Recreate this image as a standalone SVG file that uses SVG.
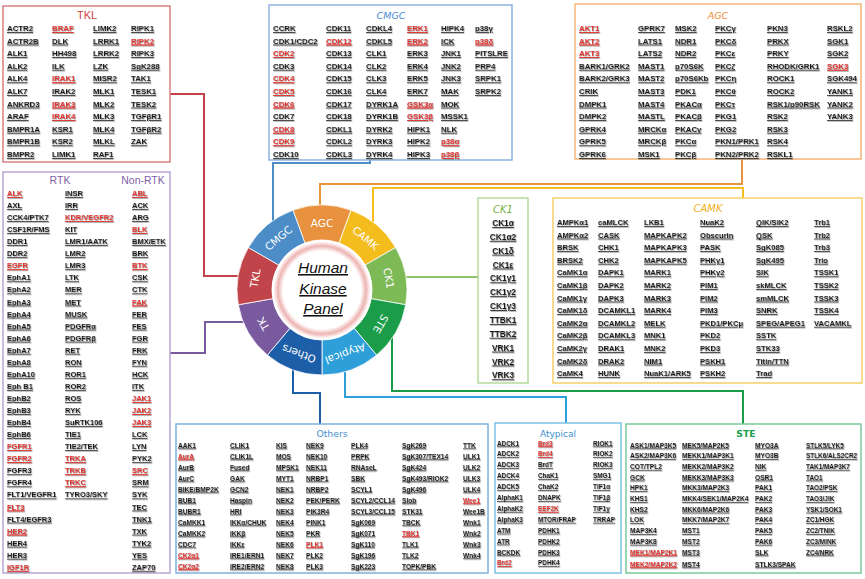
<svg xmlns="http://www.w3.org/2000/svg" width="865" height="579" viewBox="0 0 865 579">
<defs>
<style>
.k{font-family:"Liberation Sans",Arial,sans-serif;font-weight:bold;font-size:7.8px;fill:#1e1e1e;text-decoration:underline}
.m{font-size:7.5px}
.c{font-size:8.3px;text-anchor:middle}
.s{font-size:6.6px}
.a{font-size:6.4px}
.r{fill:#E3342F;text-decoration:underline}
.box{fill:#fff;stroke-width:1.5}
.ttl{font-family:"Liberation Sans",Arial,sans-serif;font-size:11px;text-anchor:middle}
.it{font-family:"DejaVu Sans",sans-serif;font-style:oblique;font-size:9.5px;text-anchor:middle}
.con{fill:none;stroke-width:2}
.seg{stroke:#fff;stroke-width:0.8}
.sl{font-family:"DejaVu Sans",sans-serif;font-size:10.5px;fill:#fff;text-anchor:middle;dominant-baseline:central}
.ctr{font-family:"Liberation Sans",Arial,sans-serif;font-style:italic;font-size:15.5px;fill:#111;text-anchor:middle;text-decoration:underline}
</style>
<filter id="sh" x="-5%" y="-5%" width="110%" height="115%"><feDropShadow dx="0.7" dy="0.7" stdDeviation="0.35" flood-color="#777" flood-opacity="0.85"/></filter>
<radialGradient id="ring" cx="0.5" cy="0.5" r="0.5"><stop offset="0" stop-color="#fff"/><stop offset="0.78" stop-color="#fff"/><stop offset="0.88" stop-color="#EDB4B2"/><stop offset="0.97" stop-color="#fff"/><stop offset="1" stop-color="#fff"/></radialGradient>
</defs>
<rect width="865" height="579" fill="#fff"/>

<g id="connectors">
<path class="con" stroke="#C0444A" d="M170 94 H204 V276 H240"/>
<path class="con" stroke="#7A5A9E" d="M170 353 H205 V322 H246"/>
<path class="con" stroke="#4C8DC8" d="M370 160 V163 H273 V224"/>
<path class="con" stroke="#E8913E" d="M742 159 V184 H320 V208"/>
<path class="con" stroke="#F5BC1E" d="M743 198 V188 H373 V225"/>
<path class="con" stroke="#8DC46A" d="M404 277 H478"/>
<path class="con" stroke="#1A9C48" d="M392 336 V391 H743 V424"/>
<path class="con" stroke="#2E9FD8" d="M345 369 V397 H566 V423"/>
<path class="con" stroke="#1D5EA8" d="M293 368 V393 H320 V424"/>
</g>

<g id="TKL">
<rect class="box" x="3" y="6" width="167" height="156" stroke="#D88080"/>
<text class="ttl" x="87" y="19" fill="#D0403F">TKL</text>
<g filter="url(#sh)">
<text class="k" y="31"><tspan x="7">ACTR2</tspan><tspan x="7" dy="12.6">ACTR2B</tspan><tspan x="7" dy="12.6">ALK1</tspan><tspan x="7" dy="12.6">ALK2</tspan><tspan x="7" dy="12.6">ALK4</tspan><tspan x="7" dy="12.6">ALK7</tspan><tspan x="7" dy="12.6">ANKRD3</tspan><tspan x="7" dy="12.6">ARAF</tspan><tspan x="7" dy="12.6">BMPR1A</tspan><tspan x="7" dy="12.6">BMPR1B</tspan><tspan x="7" dy="12.6">BMPR2</tspan></text>
<text class="k" y="31"><tspan x="52" class="r">BRAF</tspan><tspan x="52" dy="12.6">DLK</tspan><tspan x="52" dy="12.6">HH498</tspan><tspan x="52" dy="12.6">ILK</tspan><tspan x="52" dy="12.6" class="r">IRAK1</tspan><tspan x="52" dy="12.6">IRAK2</tspan><tspan x="52" dy="12.6" class="r">IRAK3</tspan><tspan x="52" dy="12.6" class="r">IRAK4</tspan><tspan x="52" dy="12.6">KSR1</tspan><tspan x="52" dy="12.6">KSR2</tspan><tspan x="52" dy="12.6">LIMK1</tspan></text>
<text class="k" y="31"><tspan x="93">LIMK2</tspan><tspan x="93" dy="12.6">LRRK1</tspan><tspan x="93" dy="12.6">LRRK2</tspan><tspan x="93" dy="12.6">LZK</tspan><tspan x="93" dy="12.6">MISR2</tspan><tspan x="93" dy="12.6">MLK1</tspan><tspan x="93" dy="12.6">MLK2</tspan><tspan x="93" dy="12.6">MLK3</tspan><tspan x="93" dy="12.6">MLK4</tspan><tspan x="93" dy="12.6">MLKL</tspan><tspan x="93" dy="12.6">RAF1</tspan></text>
<text class="k" y="31"><tspan x="131">RIPK1</tspan><tspan x="131" dy="12.6" class="r">RIPK2</tspan><tspan x="131" dy="12.6">RIPK3</tspan><tspan x="131" dy="12.6">SgK288</tspan><tspan x="131" dy="12.6">TAK1</tspan><tspan x="131" dy="12.6">TESK1</tspan><tspan x="131" dy="12.6">TESK2</tspan><tspan x="131" dy="12.6">TGFβR1</tspan><tspan x="131" dy="12.6">TGFβR2</tspan><tspan x="131" dy="12.6">ZAK</tspan></text>
</g>
</g>

<g id="CMGC">
<rect class="box" x="269" y="5" width="243" height="155" stroke="#8DB3E2"/>
<text class="it" x="391" y="19" fill="#4A8AD0">CMGC</text>
<g filter="url(#sh)">
<text class="k" y="31"><tspan x="273">CCRK</tspan><tspan x="273" dy="12.6">CDK1/CDC2</tspan><tspan x="273" dy="12.6" class="r">CDK2</tspan><tspan x="273" dy="12.6">CDK3</tspan><tspan x="273" dy="12.6" class="r">CDK4</tspan><tspan x="273" dy="12.6" class="r">CDK5</tspan><tspan x="273" dy="12.6" class="r">CDK6</tspan><tspan x="273" dy="12.6">CDK7</tspan><tspan x="273" dy="12.6" class="r">CDK8</tspan><tspan x="273" dy="12.6" class="r">CDK9</tspan><tspan x="273" dy="12.6">CDK10</tspan></text>
<text class="k" y="31"><tspan x="326">CDK11</tspan><tspan x="326" dy="12.6" class="r">CDK12</tspan><tspan x="326" dy="12.6">CDK13</tspan><tspan x="326" dy="12.6">CDK14</tspan><tspan x="326" dy="12.6">CDK15</tspan><tspan x="326" dy="12.6">CDK16</tspan><tspan x="326" dy="12.6">CDK17</tspan><tspan x="326" dy="12.6">CDK18</tspan><tspan x="326" dy="12.6">CDKL1</tspan><tspan x="326" dy="12.6">CDKL2</tspan><tspan x="326" dy="12.6">CDKL3</tspan></text>
<text class="k" y="31"><tspan x="366">CDKL4</tspan><tspan x="366" dy="12.6">CDKL5</tspan><tspan x="366" dy="12.6">CLK1</tspan><tspan x="366" dy="12.6">CLK2</tspan><tspan x="366" dy="12.6">CLK3</tspan><tspan x="366" dy="12.6">CLK4</tspan><tspan x="366" dy="12.6">DYRK1A</tspan><tspan x="366" dy="12.6">DYRK1B</tspan><tspan x="366" dy="12.6">DYRK2</tspan><tspan x="366" dy="12.6">DYRK3</tspan><tspan x="366" dy="12.6">DYRK4</tspan></text>
<text class="k" y="31"><tspan x="407" class="r">ERK1</tspan><tspan x="407" dy="12.6" class="r">ERK2</tspan><tspan x="407" dy="12.6">ERK3</tspan><tspan x="407" dy="12.6">ERK4</tspan><tspan x="407" dy="12.6">ERK5</tspan><tspan x="407" dy="12.6">ERK7</tspan><tspan x="407" dy="12.6" class="r">GSK3α</tspan><tspan x="407" dy="12.6" class="r">GSK3β</tspan><tspan x="407" dy="12.6">HIPK1</tspan><tspan x="407" dy="12.6">HIPK2</tspan><tspan x="407" dy="12.6">HIPK3</tspan></text>
<text class="k" y="31"><tspan x="441">HIPK4</tspan><tspan x="441" dy="12.6">ICK</tspan><tspan x="441" dy="12.6">JNK1</tspan><tspan x="441" dy="12.6">JNK2</tspan><tspan x="441" dy="12.6">JNK3</tspan><tspan x="441" dy="12.6">MAK</tspan><tspan x="441" dy="12.6">MOK</tspan><tspan x="441" dy="12.6">MSSK1</tspan><tspan x="441" dy="12.6">NLK</tspan><tspan x="441" dy="12.6" class="r">p38α</tspan><tspan x="441" dy="12.6" class="r">p38β</tspan></text>
<text class="k" y="31"><tspan x="475">p38γ</tspan><tspan x="475" dy="12.6" class="r">p38δ</tspan><tspan x="475" dy="12.6">PITSLRE</tspan><tspan x="475" dy="12.6">PRP4</tspan><tspan x="475" dy="12.6">SRPK1</tspan><tspan x="475" dy="12.6">SRPK2</tspan></text>
</g>
</g>

<g id="AGC">
<rect class="box" x="575" y="4" width="286" height="155" stroke="#F5B57A"/>
<text class="it" x="718" y="19" fill="#F08830">AGC</text>
<g filter="url(#sh)">
<text class="k" y="31"><tspan x="579" class="r">AKT1</tspan><tspan x="579" dy="12.6" class="r">AKT2</tspan><tspan x="579" dy="12.6" class="r">AKT3</tspan><tspan x="579" dy="12.6">BARK1/GRK2</tspan><tspan x="579" dy="12.6">BARK2/GRK3</tspan><tspan x="579" dy="12.6">CRIK</tspan><tspan x="579" dy="12.6">DMPK1</tspan><tspan x="579" dy="12.6">DMPK2</tspan><tspan x="579" dy="12.6">GPRK4</tspan><tspan x="579" dy="12.6">GPRK5</tspan><tspan x="579" dy="12.6">GPRK6</tspan></text>
<text class="k" y="31"><tspan x="638">GPRK7</tspan><tspan x="638" dy="12.6">LATS1</tspan><tspan x="638" dy="12.6">LATS2</tspan><tspan x="638" dy="12.6">MAST1</tspan><tspan x="638" dy="12.6">MAST2</tspan><tspan x="638" dy="12.6">MAST3</tspan><tspan x="638" dy="12.6">MAST4</tspan><tspan x="638" dy="12.6">MASTL</tspan><tspan x="638" dy="12.6">MRCKα</tspan><tspan x="638" dy="12.6">MRCKβ</tspan><tspan x="638" dy="12.6">MSK1</tspan></text>
<text class="k" y="31"><tspan x="675">MSK2</tspan><tspan x="675" dy="12.6">NDR1</tspan><tspan x="675" dy="12.6">NDR2</tspan><tspan x="675" dy="12.6">p70S6K</tspan><tspan x="675" dy="12.6">p70S6Kb</tspan><tspan x="675" dy="12.6">PDK1</tspan><tspan x="675" dy="12.6">PKACα</tspan><tspan x="675" dy="12.6">PKACβ</tspan><tspan x="675" dy="12.6">PKACγ</tspan><tspan x="675" dy="12.6">PKCα</tspan><tspan x="675" dy="12.6">PKCβ</tspan></text>
<text class="k" y="31"><tspan x="715">PKCγ</tspan><tspan x="715" dy="12.6">PKCδ</tspan><tspan x="715" dy="12.6">PKCε</tspan><tspan x="715" dy="12.6">PKCζ</tspan><tspan x="715" dy="12.6">PKCη</tspan><tspan x="715" dy="12.6">PKCθ</tspan><tspan x="715" dy="12.6">PKCτ</tspan><tspan x="715" dy="12.6">PKG1</tspan><tspan x="715" dy="12.6">PKG2</tspan><tspan x="715" dy="12.6">PKN1/PRK1</tspan><tspan x="715" dy="12.6">PKN2/PRK2</tspan></text>
<text class="k" y="31"><tspan x="767">PKN3</tspan><tspan x="767" dy="12.6">PRKX</tspan><tspan x="767" dy="12.6">PRKY</tspan><tspan x="767" dy="12.6">RHODK/GRK1</tspan><tspan x="767" dy="12.6">ROCK1</tspan><tspan x="767" dy="12.6">ROCK2</tspan><tspan x="767" dy="12.6">RSK1/p90RSK</tspan><tspan x="767" dy="12.6">RSK2</tspan><tspan x="767" dy="12.6">RSK3</tspan><tspan x="767" dy="12.6">RSK4</tspan><tspan x="767" dy="12.6">RSKL1</tspan></text>
<text class="k" y="31"><tspan x="827">RSKL2</tspan><tspan x="827" dy="12.6">SGK1</tspan><tspan x="827" dy="12.6">SGK2</tspan><tspan x="827" dy="12.6" class="r">SGK3</tspan><tspan x="827" dy="12.6">SGK494</tspan><tspan x="827" dy="12.6">YANK1</tspan><tspan x="827" dy="12.6">YANK2</tspan><tspan x="827" dy="12.6">YANK3</tspan></text>
</g>
</g>

<g id="TK">
<rect class="box" x="3" y="172" width="167" height="401" stroke="#B9A6D3"/>
<text class="ttl" x="60" y="184" fill="#8060A8" style="font-size:10.5px">RTK</text>
<text class="ttl" x="143" y="184" fill="#8060A8" style="font-size:10.5px">Non-RTK</text>
<g filter="url(#sh)">
<text class="k m" y="196"><tspan x="7" class="r">ALK</tspan><tspan x="7" dy="12.06">AXL</tspan><tspan x="7" dy="12.06">CCK4/PTK7</tspan><tspan x="7" dy="12.06">CSF1R/FMS</tspan><tspan x="7" dy="12.06">DDR1</tspan><tspan x="7" dy="12.06">DDR2</tspan><tspan x="7" dy="12.06" class="r">EGFR</tspan><tspan x="7" dy="12.06">EphA1</tspan><tspan x="7" dy="12.06">EphA2</tspan><tspan x="7" dy="12.06">EphA3</tspan><tspan x="7" dy="12.06">EphA4</tspan><tspan x="7" dy="12.06">EphA5</tspan><tspan x="7" dy="12.06">EphA6</tspan><tspan x="7" dy="12.06">EphA7</tspan><tspan x="7" dy="12.06">EphA8</tspan><tspan x="7" dy="12.06">EphA10</tspan><tspan x="7" dy="12.06">Eph B1</tspan><tspan x="7" dy="12.06">EphB2</tspan><tspan x="7" dy="12.06">EphB3</tspan><tspan x="7" dy="12.06">EphB4</tspan><tspan x="7" dy="12.06">EphB6</tspan><tspan x="7" dy="12.06" class="r">FGFR1</tspan><tspan x="7" dy="12.06" class="r">FGFR2</tspan><tspan x="7" dy="12.06">FGFR3</tspan><tspan x="7" dy="12.06">FGFR4</tspan><tspan x="7" dy="12.06">FLT1/VEGFR1</tspan><tspan x="7" dy="12.06" class="r">FLT3</tspan><tspan x="7" dy="12.06">FLT4/EGFR3</tspan><tspan x="7" dy="12.06" class="r">HER2</tspan><tspan x="7" dy="12.06">HER4</tspan><tspan x="7" dy="12.06">HER3</tspan><tspan x="7" dy="12.06" class="r">IGF1R</tspan></text>
<text class="k m" y="196"><tspan x="65">INSR</tspan><tspan x="65" dy="12.06">IRR</tspan><tspan x="65" dy="12.06" class="r">KDR/VEGFR2</tspan><tspan x="65" dy="12.06">KIT</tspan><tspan x="65" dy="12.06">LMR1/AATK</tspan><tspan x="65" dy="12.06">LMR2</tspan><tspan x="65" dy="12.06">LMR3</tspan><tspan x="65" dy="12.06">LTK</tspan><tspan x="65" dy="12.06">MER</tspan><tspan x="65" dy="12.06">MET</tspan><tspan x="65" dy="12.06">MUSK</tspan><tspan x="65" dy="12.06">PDGFRα</tspan><tspan x="65" dy="12.06">PDGFRβ</tspan><tspan x="65" dy="12.06">RET</tspan><tspan x="65" dy="12.06">RON</tspan><tspan x="65" dy="12.06">ROR1</tspan><tspan x="65" dy="12.06">ROR2</tspan><tspan x="65" dy="12.06">ROS</tspan><tspan x="65" dy="12.06">RYK</tspan><tspan x="65" dy="12.06">SuRTK106</tspan><tspan x="65" dy="12.06">TIE1</tspan><tspan x="65" dy="12.06">TIE2/TEK</tspan><tspan x="65" dy="12.06" class="r">TRKA</tspan><tspan x="65" dy="12.06" class="r">TRKB</tspan><tspan x="65" dy="12.06" class="r">TRKC</tspan><tspan x="65" dy="12.06">TYRO3/SKY</tspan></text>
<text class="k m" y="196"><tspan x="132" class="r">ABL</tspan><tspan x="132" dy="12.06">ACK</tspan><tspan x="132" dy="12.06">ARG</tspan><tspan x="132" dy="12.06" class="r">BLK</tspan><tspan x="132" dy="12.06">BMX/ETK</tspan><tspan x="132" dy="12.06">BRK</tspan><tspan x="132" dy="12.06" class="r">BTK</tspan><tspan x="132" dy="12.06">CSK</tspan><tspan x="132" dy="12.06">CTK</tspan><tspan x="132" dy="12.06" class="r">FAK</tspan><tspan x="132" dy="12.06">FER</tspan><tspan x="132" dy="12.06">FES</tspan><tspan x="132" dy="12.06">FGR</tspan><tspan x="132" dy="12.06">FRK</tspan><tspan x="132" dy="12.06">FYN</tspan><tspan x="132" dy="12.06">HCK</tspan><tspan x="132" dy="12.06">ITK</tspan><tspan x="132" dy="12.06" class="r">JAK1</tspan><tspan x="132" dy="12.06" class="r">JAK2</tspan><tspan x="132" dy="12.06" class="r">JAK3</tspan><tspan x="132" dy="12.06">LCK</tspan><tspan x="132" dy="12.06">LYN</tspan><tspan x="132" dy="12.06">PYK2</tspan><tspan x="132" dy="12.06" class="r">SRC</tspan><tspan x="132" dy="12.06">SRM</tspan><tspan x="132" dy="12.06">SYK</tspan><tspan x="132" dy="12.06">TEC</tspan><tspan x="132" dy="12.06">TNK1</tspan><tspan x="132" dy="12.06">TXK</tspan><tspan x="132" dy="12.06">TYK2</tspan><tspan x="132" dy="12.06">YES</tspan><tspan x="132" dy="12.06">ZAP70</tspan></text>
</g>
</g>

<g id="CK1">
<rect class="box" x="478" y="198" width="50" height="185" stroke="#B5D99C"/>
<text class="it" x="503" y="213" fill="#70B040" style="font-size:10px">CK1</text>
<g filter="url(#sh)">
<text class="k c" y="226"><tspan x="503">CK1α</tspan><tspan x="503" dy="13.85">CK1α2</tspan><tspan x="503" dy="13.85">CK1δ</tspan><tspan x="503" dy="13.85">CK1ε</tspan><tspan x="503" dy="13.85">CK1γ1</tspan><tspan x="503" dy="13.85">CK1γ2</tspan><tspan x="503" dy="13.85">CK1γ3</tspan><tspan x="503" dy="13.85">TTBK1</tspan><tspan x="503" dy="13.85">TTBK2</tspan><tspan x="503" dy="13.85">VRK1</tspan><tspan x="503" dy="13.85">VRK2</tspan><tspan x="503" dy="13.85">VRK3</tspan></text>
</g>
</g>

<g id="CAMK">
<rect class="box" x="553" y="198" width="309" height="185" stroke="#F7CF6B"/>
<text class="it" x="708" y="212" fill="#F0B020" style="font-size:10px">CAMK</text>
<g filter="url(#sh)">
<text class="k" style="font-size:7.6px" y="225"><tspan x="557">AMPKα1</tspan><tspan x="557" dy="12.6">AMPKα2</tspan><tspan x="557" dy="12.6">BRSK</tspan><tspan x="557" dy="12.6">BRSK2</tspan><tspan x="557" dy="12.6">CaMK1α</tspan><tspan x="557" dy="12.6">CaMK1β</tspan><tspan x="557" dy="12.6">CaMK1γ</tspan><tspan x="557" dy="12.6">CaMK1δ</tspan><tspan x="557" dy="12.6">CaMK2α</tspan><tspan x="557" dy="12.6">CaMK2β</tspan><tspan x="557" dy="12.6">CaMK2γ</tspan><tspan x="557" dy="12.6">CaMK2δ</tspan><tspan x="557" dy="12.6">CaMK4</tspan></text>
<text class="k" style="font-size:7.6px" y="225"><tspan x="598">caMLCK</tspan><tspan x="598" dy="12.6">CASK</tspan><tspan x="598" dy="12.6">CHK1</tspan><tspan x="598" dy="12.6">CHK2</tspan><tspan x="598" dy="12.6">DAPK1</tspan><tspan x="598" dy="12.6">DAPK2</tspan><tspan x="598" dy="12.6">DAPK3</tspan><tspan x="598" dy="12.6">DCAMKL1</tspan><tspan x="598" dy="12.6">DCAMKL2</tspan><tspan x="598" dy="12.6">DCAMKL3</tspan><tspan x="598" dy="12.6">DRAK1</tspan><tspan x="598" dy="12.6">DRAK2</tspan><tspan x="598" dy="12.6">HUNK</tspan></text>
<text class="k" style="font-size:7.6px" y="225"><tspan x="644">LKB1</tspan><tspan x="644" dy="12.6">MAPKAPK2</tspan><tspan x="644" dy="12.6">MAPKAPK3</tspan><tspan x="644" dy="12.6">MAPKAPK5</tspan><tspan x="644" dy="12.6">MARK1</tspan><tspan x="644" dy="12.6">MARK2</tspan><tspan x="644" dy="12.6">MARK3</tspan><tspan x="644" dy="12.6">MARK4</tspan><tspan x="644" dy="12.6">MELK</tspan><tspan x="644" dy="12.6">MNK1</tspan><tspan x="644" dy="12.6">MNK2</tspan><tspan x="644" dy="12.6">NIM1</tspan><tspan x="644" dy="12.6">NuaK1/ARK5</tspan></text>
<text class="k" style="font-size:7.6px" y="225"><tspan x="700">NuaK2</tspan><tspan x="700" dy="12.6">Obscurin</tspan><tspan x="700" dy="12.6">PASK</tspan><tspan x="700" dy="12.6">PHKγ1</tspan><tspan x="700" dy="12.6">PHKγ2</tspan><tspan x="700" dy="12.6">PIM1</tspan><tspan x="700" dy="12.6">PIM2</tspan><tspan x="700" dy="12.6">PIM3</tspan><tspan x="700" dy="12.6">PKD1/PKCμ</tspan><tspan x="700" dy="12.6">PKD2</tspan><tspan x="700" dy="12.6">PKD3</tspan><tspan x="700" dy="12.6">PSKH1</tspan><tspan x="700" dy="12.6">PSKH2</tspan></text>
<text class="k" style="font-size:7.6px" y="225"><tspan x="756">QIK/SIK2</tspan><tspan x="756" dy="12.6">QSK</tspan><tspan x="756" dy="12.6">SgK085</tspan><tspan x="756" dy="12.6">SgK495</tspan><tspan x="756" dy="12.6">SIK</tspan><tspan x="756" dy="12.6">skMLCK</tspan><tspan x="756" dy="12.6">smMLCK</tspan><tspan x="756" dy="12.6">SNRK</tspan><tspan x="756" dy="12.6">SPEG/APEG1</tspan><tspan x="756" dy="12.6">SSTK</tspan><tspan x="756" dy="12.6">STK33</tspan><tspan x="756" dy="12.6">Titin/TTN</tspan><tspan x="756" dy="12.6">Trad</tspan></text>
<text class="k" style="font-size:7.6px" y="225"><tspan x="814">Trb1</tspan><tspan x="814" dy="12.6">Trb2</tspan><tspan x="814" dy="12.6">Trb3</tspan><tspan x="814" dy="12.6">Trio</tspan><tspan x="814" dy="12.6">TSSK1</tspan><tspan x="814" dy="12.6">TSSK2</tspan><tspan x="814" dy="12.6">TSSK3</tspan><tspan x="814" dy="12.6">TSSK4</tspan><tspan x="814" dy="12.6">VACAMKL</tspan></text>
</g>
</g>

<g id="Others">
<rect class="box" x="176" y="424" width="312" height="149" stroke="#7EB0E0"/>
<text class="it" x="332" y="437" fill="#4A90D0" style="font-style:normal;font-size:9.3px">Others</text>
<g filter="url(#sh)">
<text class="k s" y="447.5"><tspan x="178">AAK1</tspan><tspan x="178" dy="11" class="r">AurA</tspan><tspan x="178" dy="11">AurB</tspan><tspan x="178" dy="11">AurC</tspan><tspan x="178" dy="11">BIKE/BMP2K</tspan><tspan x="178" dy="11">BUB1</tspan><tspan x="178" dy="11">BUBR1</tspan><tspan x="178" dy="11">CaMKK1</tspan><tspan x="178" dy="11">CaMKK2</tspan><tspan x="178" dy="11">CDC7</tspan><tspan x="178" dy="11" class="r">CK2α1</tspan><tspan x="178" dy="11" class="r">CK2α2</tspan></text>
<text class="k s" y="447.5"><tspan x="230">CLIK1</tspan><tspan x="230" dy="11">CLIK1L</tspan><tspan x="230" dy="11">Fused</tspan><tspan x="230" dy="11">GAK</tspan><tspan x="230" dy="11">GCN2</tspan><tspan x="230" dy="11">Haspin</tspan><tspan x="230" dy="11">HRI</tspan><tspan x="230" dy="11">IKKα/CHUK</tspan><tspan x="230" dy="11">IKKβ</tspan><tspan x="230" dy="11">IKKε</tspan><tspan x="230" dy="11">IRE1/ERN1</tspan><tspan x="230" dy="11">IRE2/ERN2</tspan></text>
<text class="k s" y="447.5"><tspan x="276">KIS</tspan><tspan x="276" dy="11">MOS</tspan><tspan x="276" dy="11">MPSK1</tspan><tspan x="276" dy="11">MYT1</tspan><tspan x="276" dy="11">NEK1</tspan><tspan x="276" dy="11">NEK2</tspan><tspan x="276" dy="11">NEK3</tspan><tspan x="276" dy="11">NEK4</tspan><tspan x="276" dy="11">NEK5</tspan><tspan x="276" dy="11">NEK6</tspan><tspan x="276" dy="11">NEK7</tspan><tspan x="276" dy="11">NEK8</tspan></text>
<text class="k s" y="447.5"><tspan x="306">NEK9</tspan><tspan x="306" dy="11">NEK10</tspan><tspan x="306" dy="11">NEK11</tspan><tspan x="306" dy="11">NRBP1</tspan><tspan x="306" dy="11">NRBP2</tspan><tspan x="306" dy="11">PEK/PERK</tspan><tspan x="306" dy="11">PIK3R4</tspan><tspan x="306" dy="11">PINK1</tspan><tspan x="306" dy="11">PKR</tspan><tspan x="306" dy="11" class="r">PLK1</tspan><tspan x="306" dy="11">PLK2</tspan><tspan x="306" dy="11">PLK3</tspan></text>
<text class="k s" y="447.5"><tspan x="351">PLK4</tspan><tspan x="351" dy="11">PRPK</tspan><tspan x="351" dy="11">RNAseL</tspan><tspan x="351" dy="11">SBK</tspan><tspan x="351" dy="11">SCYL1</tspan><tspan x="351" dy="11">SCYL2/CCL14</tspan><tspan x="351" dy="11">SCYL3/CCL15</tspan><tspan x="351" dy="11">SgK069</tspan><tspan x="351" dy="11">SgK071</tspan><tspan x="351" dy="11">SgK110</tspan><tspan x="351" dy="11">SgK196</tspan><tspan x="351" dy="11">SgK223</tspan></text>
<text class="k s" y="447.5"><tspan x="402">SgK269</tspan><tspan x="402" dy="11">SgK307/TEX14</tspan><tspan x="402" dy="11">SgK424</tspan><tspan x="402" dy="11">SgK493/RIOK2</tspan><tspan x="402" dy="11">SgK496</tspan><tspan x="402" dy="11">Slob</tspan><tspan x="402" dy="11">STK31</tspan><tspan x="402" dy="11">TBCK</tspan><tspan x="402" dy="11" class="r">TBK1</tspan><tspan x="402" dy="11">TLK1</tspan><tspan x="402" dy="11">TLK2</tspan><tspan x="402" dy="11">TOPK/PBK</tspan></text>
<text class="k s" y="447.5"><tspan x="463">TTK</tspan><tspan x="463" dy="11">ULK1</tspan><tspan x="463" dy="11">ULK2</tspan><tspan x="463" dy="11">ULK3</tspan><tspan x="463" dy="11">ULK4</tspan><tspan x="463" dy="11" class="r">Wee1</tspan><tspan x="463" dy="11">Wee1B</tspan><tspan x="463" dy="11">Wnk1</tspan><tspan x="463" dy="11">Wnk2</tspan><tspan x="463" dy="11">Wnk3</tspan><tspan x="463" dy="11">Wnk4</tspan></text>
</g>
</g>

<g id="Atypical">
<rect class="box" x="495" y="423" width="126" height="150" stroke="#7EC3EA"/>
<text class="it" x="558" y="437" fill="#3A8FD0" style="font-style:normal;font-size:9px">Atypical</text>
<g filter="url(#sh)">
<text class="k a" y="445.5"><tspan x="497">ADCK1</tspan><tspan x="497" dy="10.9">ADCK2</tspan><tspan x="497" dy="10.9">ADCK3</tspan><tspan x="497" dy="10.9">ADCK4</tspan><tspan x="497" dy="10.9">ADCK5</tspan><tspan x="497" dy="10.9">AlphaK1</tspan><tspan x="497" dy="10.9">AlphaK2</tspan><tspan x="497" dy="10.9">AlphaK3</tspan><tspan x="497" dy="10.9">ATM</tspan><tspan x="497" dy="10.9">ATR</tspan><tspan x="497" dy="10.9">BCKDK</tspan><tspan x="497" dy="10.9" class="r">Brd2</tspan></text>
<text class="k a" y="445.5"><tspan x="538" class="r">Brd3</tspan><tspan x="538" dy="10.9" class="r">Brd4</tspan><tspan x="538" dy="10.9">BrdT</tspan><tspan x="538" dy="10.9">ChaK1</tspan><tspan x="538" dy="10.9">ChaK2</tspan><tspan x="538" dy="10.9">DNAPK</tspan><tspan x="538" dy="10.9" class="r">EEF2K</tspan><tspan x="538" dy="10.9">MTOR/FRAP</tspan><tspan x="538" dy="10.9">PDHK1</tspan><tspan x="538" dy="10.9">PDHK2</tspan><tspan x="538" dy="10.9">PDHK3</tspan><tspan x="538" dy="10.9">PDHK4</tspan></text>
<text class="k a" y="445.5"><tspan x="593">RIOK1</tspan><tspan x="593" dy="10.9">RIOK2</tspan><tspan x="593" dy="10.9">RIOK3</tspan><tspan x="593" dy="10.9">SMG1</tspan><tspan x="593" dy="10.9">TIF1α</tspan><tspan x="593" dy="10.9">TIF1β</tspan><tspan x="593" dy="10.9">TIF1γ</tspan><tspan x="593" dy="10.9">TRRAP</tspan></text>
</g>
</g>

<g id="STE">
<rect class="box" x="626" y="424" width="235" height="149" stroke="#7CC99A"/>
<text x="746" y="437" fill="#20A050" style="font-family:'DejaVu Sans',sans-serif;font-weight:bold;font-size:9.3px;text-anchor:middle">STE</text>
<g filter="url(#sh)">
<text class="k s" y="447.5"><tspan x="630">ASK1/MAP3K5</tspan><tspan x="630" dy="10.7">ASK2/MAP3K6</tspan><tspan x="630" dy="10.7">COT/TPL2</tspan><tspan x="630" dy="10.7">GCK</tspan><tspan x="630" dy="10.7">HPK1</tspan><tspan x="630" dy="10.7">KHS1</tspan><tspan x="630" dy="10.7">KHS2</tspan><tspan x="630" dy="10.7">LOK</tspan><tspan x="630" dy="10.7">MAP3K4</tspan><tspan x="630" dy="10.7">MAP3K8</tspan><tspan x="630" dy="10.7" class="r">MEK1/MAP2K1</tspan><tspan x="630" dy="12" class="r">MEK2/MAP2K2</tspan></text>
<text class="k s" y="447.5"><tspan x="682">MEK5/MAP2K5</tspan><tspan x="682" dy="10.7">MEKK1/MAP3K1</tspan><tspan x="682" dy="10.7">MEKK2/MAP3K2</tspan><tspan x="682" dy="10.7">MEKK3/MAP3K3</tspan><tspan x="682" dy="10.7">MKK3/MAP2K3</tspan><tspan x="682" dy="10.7">MKK4/SEK1/MAP2K4</tspan><tspan x="682" dy="10.7">MKK6/MAP2K6</tspan><tspan x="682" dy="10.7">MKK7/MAP2K7</tspan><tspan x="682" dy="10.7">MST1</tspan><tspan x="682" dy="10.7">MST2</tspan><tspan x="682" dy="10.7">MST3</tspan><tspan x="682" dy="12">MST4</tspan></text>
<text class="k s" y="447.5"><tspan x="755">MYO3A</tspan><tspan x="755" dy="10.7">MYO3B</tspan><tspan x="755" dy="10.7">NIK</tspan><tspan x="755" dy="10.7">OSR1</tspan><tspan x="755" dy="10.7">PAK1</tspan><tspan x="755" dy="10.7">PAK2</tspan><tspan x="755" dy="10.7">PAK3</tspan><tspan x="755" dy="10.7">PAK4</tspan><tspan x="755" dy="10.7">PAK5</tspan><tspan x="755" dy="10.7">PAK6</tspan><tspan x="755" dy="10.7">SLK</tspan><tspan x="755" dy="12">STLK3/SPAK</tspan></text>
<text class="k s" y="447.5" style="font-size:6.4px"><tspan x="806">STLK5/LYK5</tspan><tspan x="806" dy="10.7">STLK6/ALS2CR2</tspan><tspan x="806" dy="10.7">TAK1/MAP3K7</tspan><tspan x="806" dy="10.7">TAO1</tspan><tspan x="806" dy="10.7">TAO2/PSK</tspan><tspan x="806" dy="10.7">TAO3/JIK</tspan><tspan x="806" dy="10.7">YSK1/SOK1</tspan><tspan x="806" dy="10.7">ZC1/HGK</tspan><tspan x="806" dy="10.7">ZC2/TNIK</tspan><tspan x="806" dy="10.7">ZC3/MINK</tspan><tspan x="806" dy="10.7">ZC4/NRK</tspan></text>
</g>
</g>

<g id="wheel">
<path class="seg" fill="#E8913E" d="M292.93 210.13 A85 85 0 0 1 351.07 210.13 L339.10 243.02 A50 50 0 0 0 304.90 243.02 Z"/>
<path class="seg" fill="#F5BC1E" d="M351.07 210.13 A85 85 0 0 1 395.61 247.5 L365.30 265 A50 50 0 0 0 339.10 243.02 Z"/>
<path class="seg" fill="#7DB955" d="M395.61 247.5 A85 85 0 0 1 405.71 304.76 L371.24 298.68 A50 50 0 0 0 365.30 265 Z"/>
<path class="seg" fill="#1A9C48" d="M405.71 304.76 A85 85 0 0 1 376.64 355.11 L354.14 328.30 A50 50 0 0 0 371.24 298.68 Z"/>
<path class="seg" fill="#2E9FD8" d="M376.64 355.11 A85 85 0 0 1 322 375 L322 340 A50 50 0 0 0 354.14 328.30 Z"/>
<path class="seg" fill="#1D5EA8" d="M322 375 A85 85 0 0 1 267.36 355.11 L289.86 328.30 A50 50 0 0 0 322 340 Z"/>
<path class="seg" fill="#7A5A9E" d="M267.36 355.11 A85 85 0 0 1 238.29 304.76 L272.76 298.68 A50 50 0 0 0 289.86 328.30 Z"/>
<path class="seg" fill="#C0444A" d="M238.29 304.76 A85 85 0 0 1 248.39 247.5 L278.70 265 A50 50 0 0 0 272.76 298.68 Z"/>
<path class="seg" fill="#4C8DC8" d="M248.39 247.5 A85 85 0 0 1 292.93 210.13 L304.90 243.02 A50 50 0 0 0 278.70 265 Z"/>
<text class="sl" transform="translate(322 223)">AGC</text>
<text class="sl" transform="translate(365.7 237.9) rotate(40)">CAMK</text>
<text class="sl" transform="translate(389 278.2) rotate(80)">CK1</text>
<text class="sl" transform="translate(380.9 324) rotate(120)">STE</text>
<text class="sl" transform="translate(345.3 353.9) rotate(160)">Atypical</text>
<text class="sl" transform="translate(298.7 353.9) rotate(200)">Others</text>
<text class="sl" transform="translate(263.1 324) rotate(240)">TK</text>
<text class="sl" transform="translate(255 278.2) rotate(280)">TKL</text>
<text class="sl" transform="translate(278.3 237.9) rotate(320)">CMGC</text>
<circle cx="322" cy="290" r="50" fill="url(#ring)"/>
<text class="ctr" x="323" y="273">Human</text>
<text class="ctr" x="323" y="294">Kinase</text>
<text class="ctr" x="323" y="314">Panel</text>
</g>
</svg>
